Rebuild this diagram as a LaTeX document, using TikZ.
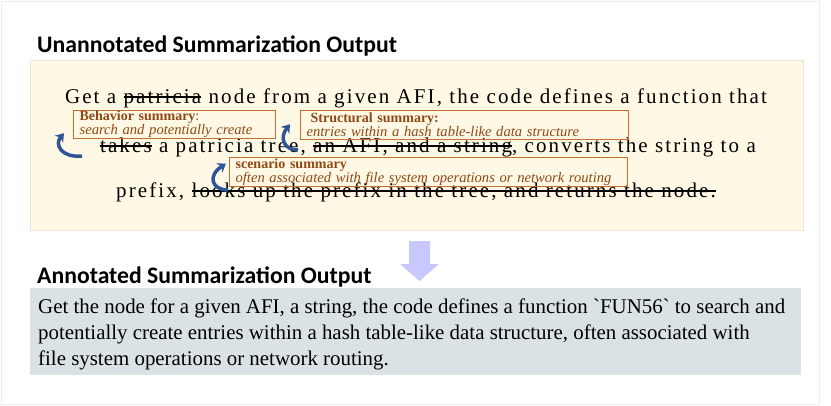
\documentclass[tikz,border=0pt]{standalone}
\usepackage{fontspec}
\setmainfont{Liberation Serif}
\setsansfont{Carlito}
\usetikzlibrary{
  arrows.meta,
  positioning
}
\definecolor{cream}{RGB}{255,248,228}
\definecolor{creamline}{RGB}{236,230,214}
\definecolor{rust}{RGB}{200,108,48}
\definecolor{rusttext}{RGB}{145,72,22}
\definecolor{curlblue}{RGB}{47,85,151}
\definecolor{lavender}{RGB}{200,200,255}
\definecolor{slate}{RGB}{219,226,230}
\newfontfamily\spacedserif[LetterSpace=10]{Liberation Serif}
\newsavebox{\strikebox}
\newcommand{\strike}[1]{\sbox{\strikebox}{#1}%
  \rlap{\raisebox{0.26em}{\rule{\wd\strikebox}{1.1pt}}}\usebox{\strikebox}}
\newcommand{\summhead}[1]{{\fontsize{14}{13}\selectfont\bfseries #1}}
\newcommand{\summbody}[1]{\mbox{\fontsize{14.6}{13}\selectfont\itshape #1}}

\begin{document}
\begin{tikzpicture}[x=1pt, y=-1pt,
    heading/.style={font=\sffamily\bfseries\fontsize{23.7}{26}\selectfont, anchor=base west, inner sep=0pt},
    mainline/.style={font=\spacedserif\fontsize{21}{24}\selectfont, anchor=base, inner sep=0pt},
    summarybox/.style={draw=rust, line width=1.2pt, text=rusttext, anchor=north west,
      align=left, inner xsep=6pt, inner ysep=0.5pt, font=\fontsize{14}{13}\selectfont},
    curl/.style={draw=curlblue, line width=3.5pt, -{Stealth[length=8pt, width=11pt]}}]
  \useasboundingbox (0,0) rectangle (831,405);
  \draw[gray!15, line width=0.8pt] (1,1) rectangle (819,404);

  % Unannotated part
  \node[heading] (rawtitle) at (37,52) {Unannotated Summarization Output};
  \draw[fill=cream, draw=creamline] (30,60) rectangle (803,230);
  \node[mainline] (lineone) at (416,103)
    {Get a \strike{patricia} node from a given AFI, the code defines a function that};
  \node[mainline] (linetwo) at (428,152)
    {\strike{takes} a patricia tree, \strike{an AFI, and a string}, converts the string to a};
  \node[mainline] (linethree) at (416,197)
    {prefix, \strike{looks up the prefix in the tree, and returns the node.}};

  % Summary boxes
  \node[summarybox, text width=190pt, minimum height=27pt] (behavior) at (73,110)
    {\summhead{Behavior summary}:\par\summbody{search and potentially create}};
  \node[summarybox, text width=316pt, minimum height=29pt] (structural) at (300,110)
    {\hspace*{4pt}\summhead{Structural summary:}\par\summbody{entries within a hash table-like data structure}};
  \node[summarybox, text width=386pt, minimum height=29pt] (scenario) at (229,157)
    {\summhead{scenario summary}\par\summbody{often associated with file system operations or network routing}};

  % Curved arrows
  \coordinate (behtail) at (82,156);
  \coordinate (behhead) at ([xshift=-9pt, yshift=6pt]behavior.south west);
  \draw[curl] (behtail) .. controls (62,158) and (54,145) .. (behhead);
  \coordinate (strtail) at (298,150);
  \coordinate (strhead) at ([xshift=-10pt, yshift=16pt]structural.south west);
  \draw[curl] (strtail) .. controls (284,150) and (279,138) .. (strhead);
  \coordinate (scntail) at (228,190);
  \coordinate (scnhead) at ([xshift=-3pt, yshift=8.5pt]scenario.west);
  \draw[curl] (scntail) .. controls (212,190) and (207,176) .. (scnhead);

  % Down arrow
  \fill[lavender] (409,241) -- (430,241) -- (430,264) -- (439,264) -- (419.5,281)
    -- (400,264) -- (409,264) -- cycle;

  % Annotated part
  \node[heading] (annotitle) at (37,283) {Annotated Summarization Output};
  \draw[fill=slate, draw=none] (30,288) rectangle (801,375);
  \node[anchor=north west, align=left, inner sep=0pt, font=\fontsize{20.9}{26}\selectfont]
    (annotext) at (38,299)
    {Get the node for a given AFI, a string, the code defines a function \textasciigrave FUN56\textasciigrave{} to search and\\
     potentially create entries within a hash table-like data structure, often associated with\\
     file system operations or network routing.};
\end{tikzpicture}
\end{document}
